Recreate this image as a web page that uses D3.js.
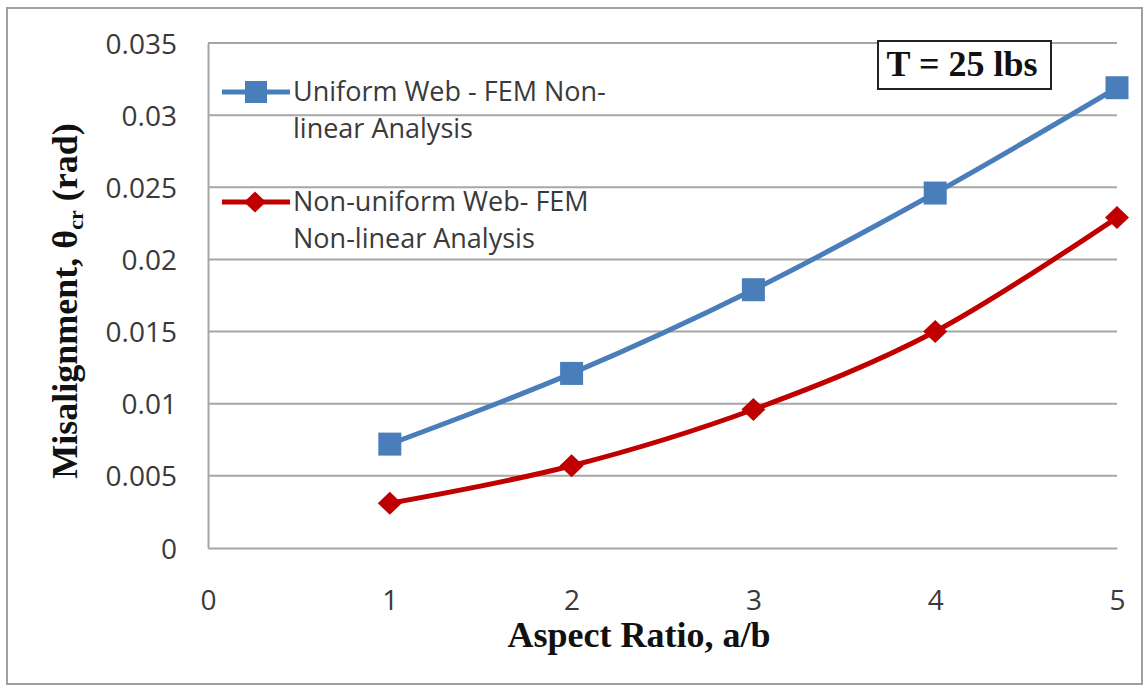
<!DOCTYPE html>
<html>
<head>
<meta charset="utf-8">
<script src="https://cdn.jsdelivr.net/npm/d3@7"></script>
<style>
  html, body { margin: 0; padding: 0; background: #fff; }
  svg { display: block; }
</style>
</head>
<body>
<script>
// Aspect ratio (a/b) on the x axis
const aspectRatios = [1, 2, 3, 4, 5];
// Critical misalignment (rad) from the non-linear FEM runs
const uniformWeb = [0.0072, 0.0121, 0.0179, 0.0246, 0.0319];
const nonUniformWeb = [0.0031, 0.0057, 0.0096, 0.0150, 0.0229];
// Axis ticks
const xTicks = [0, 1, 2, 3, 4, 5];
const yTicks = [0, 0.005, 0.01, 0.015, 0.02, 0.025, 0.03, 0.035];
const yTickLabels = ["0", "0.005", "0.01", "0.015", "0.02", "0.025", "0.03", "0.035"];
// Legend entries
const seriesNames = [
  ["Uniform Web - FEM Non-", "linear Analysis"],
  ["Non-uniform Web- FEM", "Non-linear Analysis"]
];

const W = 1144, H = 686;
const plot = { left: 208, right: 1117, top: 43, bottom: 548 };
const blue = "#4A7EBB", red = "#C00000";
const gridColor = "#a6a6a6", textColor = "#3a3a3a";
const sans = "'Open Sans', 'Noto Sans', sans-serif";
const serif = "'Liberation Serif', 'Times New Roman', serif";

const svg = d3.select("body").append("svg").attr("width", W).attr("height", H);

// chart frame
svg.append("rect").attr("x", 7).attr("y", 8).attr("width", 1135).attr("height", 676)
  .attr("fill", "#fff").attr("stroke", "#a0a0a0").attr("stroke-width", 2);

const x = d3.scaleLinear().domain([0, 5]).range([plot.left, plot.right]);
const y = d3.scaleLinear().domain([0, 0.035]).range([plot.bottom, plot.top]);

// horizontal gridlines
svg.append("g").selectAll("line").data(yTicks.slice(1)).join("line")
  .attr("x1", plot.left).attr("x2", plot.right)
  .attr("y1", d => y(d)).attr("y2", d => y(d))
  .attr("stroke", gridColor).attr("stroke-width", 2);

// y axis
const yAxis = d3.axisLeft(y).tickValues(yTicks).tickSize(0).tickPadding(31)
  .tickFormat((d, i) => yTickLabels[i]);
const gy = svg.append("g").attr("transform", `translate(${plot.left},0)`).call(yAxis);
gy.select(".domain").attr("stroke", gridColor).attr("stroke-width", 2);
gy.selectAll("text").attr("font-family", sans).attr("font-size", 28)
  .attr("fill", textColor).attr("dy", "0.36em");

// x axis
const xAxis = d3.axisBottom(x).tickValues(xTicks).tickSize(0).tickPadding(56)
  .tickFormat(d3.format("d"));
const gx = svg.append("g").attr("transform", `translate(0,${plot.bottom})`).call(xAxis);
gx.select(".domain").attr("stroke", gridColor).attr("stroke-width", 2);
gx.selectAll("text").attr("font-family", sans).attr("font-size", 28)
  .attr("fill", textColor).attr("dy", "0.2em");

// series lines
const line = d3.line().x((d, i) => x(aspectRatios[i])).y(d => y(d))
  .curve(d3.curveCardinal.tension(0));

svg.append("path").datum(uniformWeb).attr("d", line)
  .attr("fill", "none").attr("stroke", blue).attr("stroke-width", 5);
svg.append("path").datum(nonUniformWeb).attr("d", line)
  .attr("fill", "none").attr("stroke", red).attr("stroke-width", 5);

// markers
const sq = 23;
svg.append("g").selectAll("rect").data(uniformWeb).join("rect")
  .attr("x", (d, i) => x(aspectRatios[i]) - sq / 2)
  .attr("y", d => y(d) - sq / 2)
  .attr("width", sq).attr("height", sq).attr("fill", blue);

const diamond = (cx, cy, rx, ry) =>
  `M${cx},${cy - ry}L${cx + rx},${cy}L${cx},${cy + ry}L${cx - rx},${cy}Z`;
svg.append("g").selectAll("path").data(nonUniformWeb).join("path")
  .attr("d", (d, i) => diamond(x(aspectRatios[i]), y(d), 12, 11.5))
  .attr("fill", red);

// legend
const legend = svg.append("g");
const legendRows = [
  { y: 92, color: blue, marker: "square", text: seriesNames[0], base: 101 },
  { y: 202, color: red, marker: "diamond", text: seriesNames[1], base: 211 }
];
legendRows.forEach(r => {
  legend.append("line").attr("x1", 222).attr("x2", 290).attr("y1", r.y).attr("y2", r.y)
    .attr("stroke", r.color).attr("stroke-width", 5);
  if (r.marker === "square") {
    legend.append("rect").attr("x", 256 - 11).attr("y", r.y - 11)
      .attr("width", 22).attr("height", 22).attr("fill", r.color);
  } else {
    legend.append("path").attr("d", diamond(255, r.y, 11, 10.5)).attr("fill", r.color);
  }
  const t = legend.append("text").attr("x", 293).attr("y", r.base)
    .attr("font-family", sans).attr("font-size", 27).attr("fill", textColor);
  r.text.forEach((s, k) => {
    t.append("tspan").attr("x", 293).attr("dy", k === 0 ? 0 : 37).text(s);
  });
});

// load annotation box
svg.append("rect").attr("x", 878).attr("y", 41).attr("width", 173).attr("height", 48)
  .attr("fill", "#fff").attr("stroke", "#222").attr("stroke-width", 2);
svg.append("text").attr("x", 962).attr("y", 76).attr("text-anchor", "middle")
  .attr("font-family", serif).attr("font-weight", "bold").attr("font-size", 36)
  .attr("fill", "#111").text("T = 25 lbs");

// axis titles
svg.append("text").attr("x", 639).attr("y", 647).attr("text-anchor", "middle")
  .attr("font-family", serif).attr("font-weight", "bold").attr("font-size", 36)
  .attr("fill", "#111").text("Aspect Ratio, a/b");

const yt = svg.append("text").attr("transform", "translate(77,301) rotate(-90)")
  .attr("text-anchor", "middle")
  .attr("font-family", serif).attr("font-weight", "bold").attr("font-size", 36)
  .attr("fill", "#111");
yt.append("tspan").text("Misalignment, θ");
yt.append("tspan").attr("font-size", 22).attr("dy", 6).text("cr");
yt.append("tspan").attr("dy", -6).text(" (rad)");
</script>
</body>
</html>
